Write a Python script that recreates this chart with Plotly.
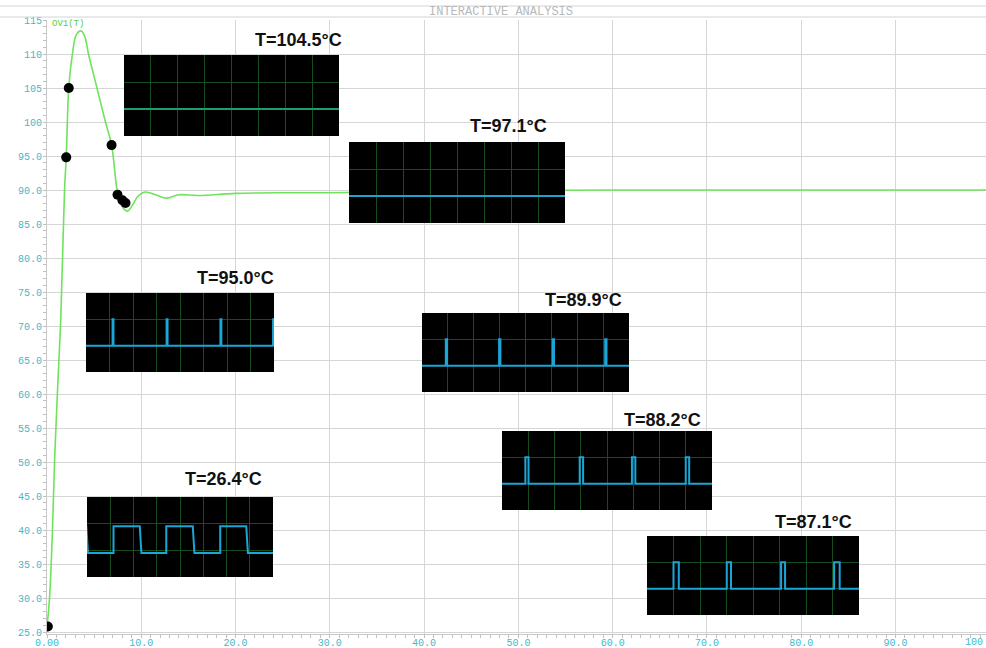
import plotly.graph_objects as go

# ---------------- data ----------------
# main temperature response  (time, temperature)
TIME = [0.0, 0.27, 0.58, 0.8, 1.1, 1.43, 1.65, 1.86, 2.04, 2.31, 2.7, 3.1, 3.6, 4.0, 4.4, 5.3,
        6.2, 6.85, 7.5, 8.0, 8.55, 9.0, 9.6, 10.4, 11.5, 12.7, 14.0, 16.0, 20.0, 25.0, 30.0,
        40.0, 50.0, 60.0, 70.0, 80.0, 90.0, 100.0]
TEMP = [25.8, 30.0, 40.0, 50.0, 60.0, 70.0, 80.0, 90.0, 94.8, 105.0, 110.0, 112.8, 113.4, 112.6,
        110.0, 105.0, 100.0, 96.6, 89.5, 87.5, 86.9, 87.6, 89.0, 89.7, 89.3, 88.8, 89.3, 89.2,
        89.5, 89.6, 89.6, 89.8, 89.9, 90.0, 90.0, 90.0, 90.0, 90.0]

# sampled points (black dots)
DOT_T = [0.09, 2.04, 2.31, 6.85, 7.48, 8.0, 8.33]
DOT_V = [25.8, 94.8, 105.0, 96.6, 89.3, 88.5, 88.1]

# insets: heater drive waveforms (time in grid divisions 0..8)
INSET_LABELS = ["T=104.5°C", "T=97.1°C", "T=95.0°C", "T=89.9°C", "T=88.2°C", "T=26.4°C", "T=87.1°C"]
PULSE_ON = [[], [], [1.13, 3.43, 5.72, 7.96], [0.92, 2.98, 5.05, 7.08],
            [0.89, 2.96, 4.95, 7.0], [-1.0, 1.14, 3.41, 5.73], [1.0, 3.01, 5.06, 7.06]]
PULSE_OFF = [[], [], [1.17, 3.47, 5.76, 8.0], [0.97, 3.03, 5.10, 7.13],
             [1.01, 3.09, 5.08, 7.13], [-0.03, 2.27, 4.55, 6.85], [1.2, 3.17, 5.21, 7.27]]
LOW_LEVEL = [1.0, 1.0, 1.0, 1.0, 1.0, 0.9, 1.0]
HIGH_LEVEL = [2.0, 2.0, 2.0, 2.0, 2.0, 1.9, 2.0]
FALL_SLANT = [0.0, 0.0, 0.0, 0.0, 0.0, 0.07, 0.0]

# axis ticks
Y_TICKS = [115, 110, 105, 100, 95, 90, 85, 80, 75, 70, 65, 60, 55, 50, 45, 40, 35, 30, 25]
Y_TEXT = ["115", "110", "105", "100", "95.0", "90.0", "85.0", "80.0", "75.0", "70.0", "65.0",
          "60.0", "55.0", "50.0", "45.0", "40.0", "35.0", "30.0", "25.0"]
X_TICKS = [0, 10, 20, 30, 40, 50, 60, 70, 80, 90]
X_TEXT = ["0.00", "10.0", "20.0", "30.0", "40.0", "50.0", "60.0", "70.0", "80.0", "90.0"]

# ---------------- layout (pixels) ----------------
FW, FH = 986, 648
L, R, T, B = 47, 986, 20, 634
PW, PH = R - L, B - T
Y_BOTTOM = 115 - PH / 6.8
INSET_BOX = [(124, 339, 55, 136), (349, 565, 142, 223), (86, 274, 293, 372), (422, 629, 313, 392),
             (502, 712, 431, 510), (87, 273, 497, 577), (647, 859, 536, 615)]
LABEL_POS = [(344, 40), (549, 126), (276, 278), (624, 300), (703, 420), (264, 479), (854, 522)]
TRACE_COL = ["#1f9c72", "#1ea3cc", "#1aa6d6", "#1aa6d6", "#1aa6d6", "#1aa6d6", "#1aa6d6"]

def px2x(p):
    return (p - L) / PW

def px2y(p):
    return (B - p) / PH

CYAN = "#3fb9cb"
GREEN = "#6fe35c"

fig = go.Figure()

fig.add_trace(go.Scatter(x=TIME, y=TEMP, mode="lines", line=dict(color=GREEN, width=1.6),
                         line_shape="spline", hoverinfo="skip", showlegend=False))
fig.add_trace(go.Scatter(x=DOT_T, y=DOT_V, mode="markers",
                         marker=dict(color="black", size=10), showlegend=False))

layout = dict(
    width=FW, height=FH, autosize=False,
    margin=dict(l=L, r=FW - R, t=T, b=FH - B),
    paper_bgcolor="white", plot_bgcolor="white",
    showlegend=False,
    xaxis=dict(range=[0, 99.6], tickvals=X_TICKS, ticktext=X_TEXT, showgrid=True,
               gridcolor="#d6d6d6", gridwidth=1, zeroline=False, showline=True,
               linecolor="#c8c8c8", ticks="", tickfont=dict(family="Liberation Mono", size=10, color=CYAN),
               minor=dict(dtick=1, ticks="outside", ticklen=3, tickcolor="#c0c0c0", showgrid=False),
               ticklabelstandoff=-1, automargin=False, domain=[0, 1]),
    yaxis=dict(range=[Y_BOTTOM, 115], tickvals=Y_TICKS, ticktext=Y_TEXT, showgrid=True,
               gridcolor="#d6d6d6", gridwidth=1, zeroline=False, showline=True,
               linecolor="#c8c8c8", ticks="", tickfont=dict(family="Liberation Mono", size=10, color=CYAN),
               minor=dict(dtick=1, ticks="outside", ticklen=3, tickcolor="#c0c0c0", showgrid=False),
               ticklabelstandoff=2, automargin=False, domain=[0, 1]),
)

shapes = []
annotations = []

for i, (x0, x1, y0, y1) in enumerate(INSET_BOX):
    k = i + 2
    layout[f"xaxis{k}"] = dict(domain=[px2x(x0), px2x(x1)], range=[0, 8], dtick=1, tick0=0,
                               showgrid=True, gridcolor="#164d1c", gridwidth=1, zeroline=False,
                               showline=False, showticklabels=False, ticks="", anchor=f"y{k}",
                               fixedrange=True)
    layout[f"yaxis{k}"] = dict(domain=[px2y(y1), px2y(y0)], range=[0, 3], dtick=1, tick0=0,
                               showgrid=True, gridcolor="#164d1c", gridwidth=1, zeroline=False,
                               showline=False, showticklabels=False, ticks="", anchor=f"x{k}",
                               fixedrange=True)
    shapes.append(dict(type="rect", xref=f"x{k}", yref=f"y{k}", x0=0, x1=8, y0=0, y1=3,
                       fillcolor="black", line=dict(width=0), layer="below"))
    lo, hi, sl = LOW_LEVEL[i], HIGH_LEVEL[i], FALL_SLANT[i]
    wx, wy = [-1.5], [lo]
    for on, off in zip(PULSE_ON[i], PULSE_OFF[i]):
        wx += [on, on, off, off + sl]
        wy += [lo, hi, hi, lo]
    wx.append(9.0)
    wy.append(lo)
    fig.add_trace(go.Scatter(x=wx, y=wy, mode="lines", xaxis=f"x{k}", yaxis=f"y{k}",
                             line=dict(color=TRACE_COL[i], width=2), hoverinfo="skip",
                             showlegend=False))
    lx, ly = LABEL_POS[i]
    annotations.append(dict(text=f"<b>{INSET_LABELS[i]}</b>", xref="paper", yref="paper",
                            x=px2x(lx), y=px2y(ly), xanchor="right", yanchor="middle",
                            showarrow=False,
                            font=dict(family="Liberation Sans", size=18, color="#111111")))

# header bar
for yy in (6, 17):
    shapes.append(dict(type="line", xref="paper", yref="paper", x0=px2x(0), x1=px2x(FW),
                       y0=px2y(yy), y1=px2y(yy), line=dict(color="#d4d4d4", width=1)))
annotations.append(dict(text="INTERACTIVE ANALYSIS", xref="paper", yref="paper",
                        x=px2x(501), y=px2y(11.5), xanchor="center", yanchor="middle",
                        showarrow=False,
                        font=dict(family="Liberation Mono", size=12, color="#b9b9b9")))
annotations.append(dict(text="OV1(T)", xref="paper", yref="paper", x=px2x(50), y=px2y(24),
                        xanchor="left", yanchor="middle", showarrow=False,
                        font=dict(family="Liberation Mono", size=9, color="#55cc44")))
annotations.append(dict(text="100", xref="paper", yref="paper", x=px2x(985), y=px2y(642),
                        xanchor="right", yanchor="middle", showarrow=False,
                        font=dict(family="Liberation Mono", size=10, color=CYAN)))

layout["shapes"] = shapes
layout["annotations"] = annotations
fig.update_layout(**layout)

fig.write_html("out.html")
